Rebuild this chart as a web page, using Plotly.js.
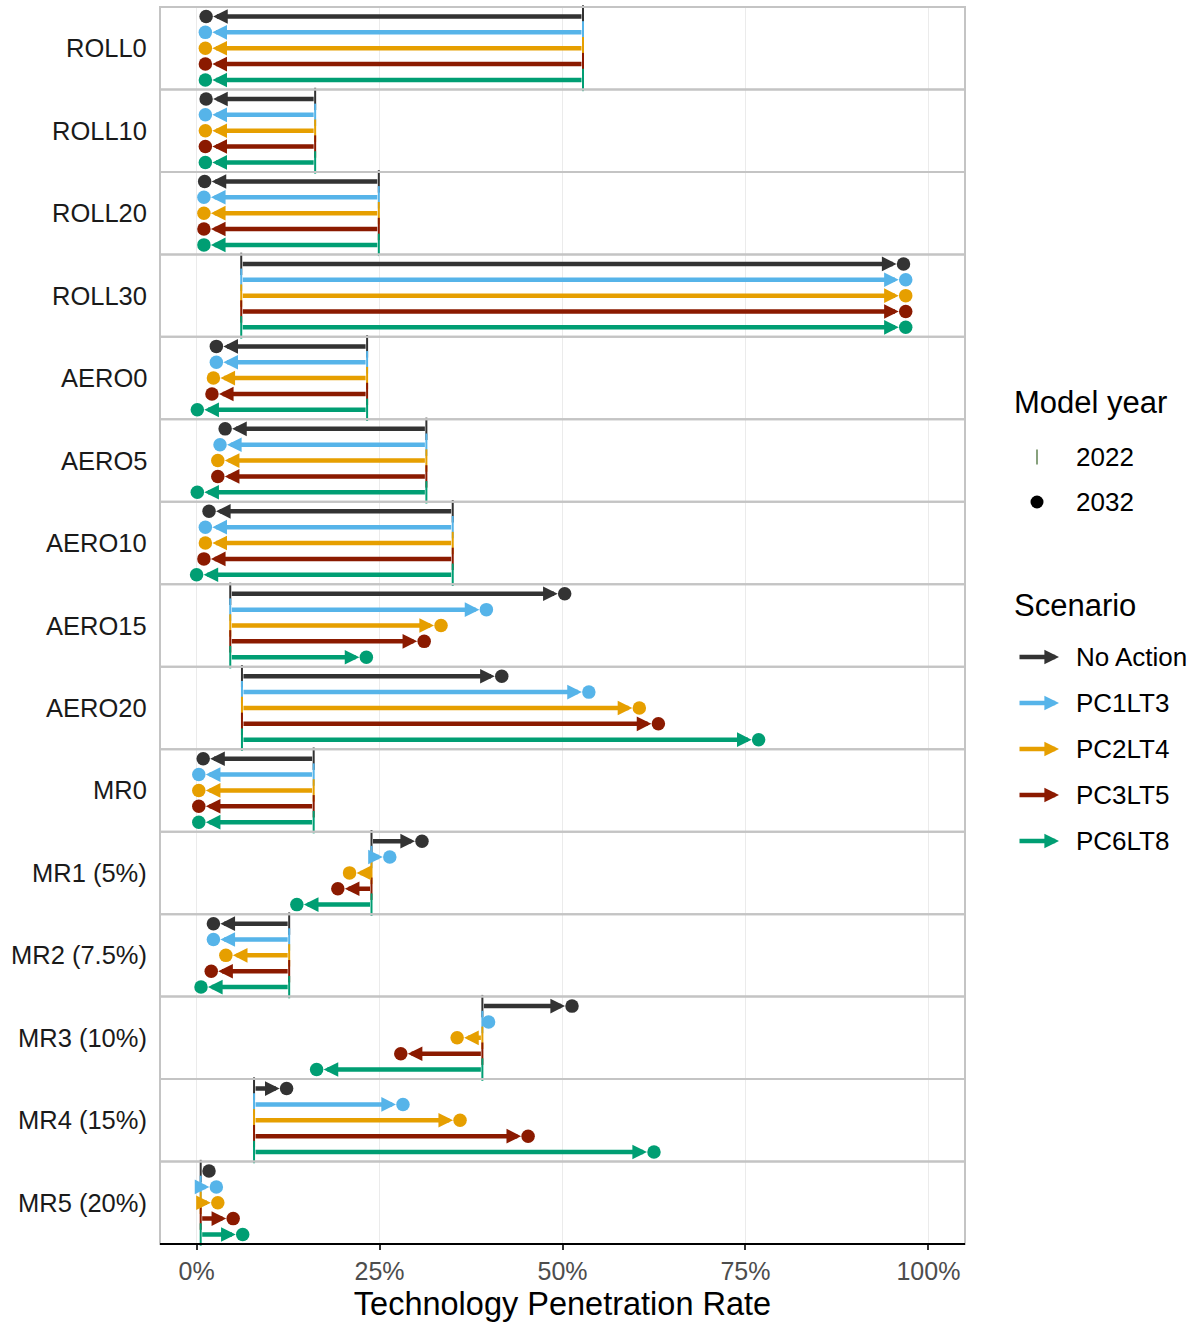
<!DOCTYPE html>
<html>
<head>
<meta charset="utf-8">
<script src="https://cdn.plot.ly/plotly-3.0.1.min.js"></script>
<style>html,body{margin:0;padding:0;background:#fff;}#chart{width:1195px;height:1322px;}</style>
</head>
<body>
<div id="chart"></div>
<script>
// ---------------- data ----------------
const facets = ["ROLL0","ROLL10","ROLL20","ROLL30","AERO0","AERO5","AERO10","AERO15","AERO20","MR0","MR1 (5%)","MR2 (7.5%)","MR3 (10%)","MR4 (15%)","MR5 (20%)"];
const scenarios = ["No Action","PC1LT3","PC2LT4","PC3LT5","PC6LT8"];
const scenarioColors = ["#333333","#56B4E9","#E69F00","#8B1A00","#009E73"];
const modelYears = ["2022","2032"];

// 2022 penetration rate (same for every scenario within a technology)
const rate2022 = [0.528,0.162,0.249,0.061,0.233,0.314,0.350,0.046,0.062,0.160,0.239,0.1265,0.3905,0.0785,0.0056];

// 2032 penetration rate by scenario
const noAction2032 = [0.013,0.013,0.011,0.966,0.027,0.039,0.017,0.503,0.417,0.009,0.308,0.023,0.513,0.123,0.017];
const pc1lt3_2032  = [0.012,0.012,0.010,0.969,0.027,0.032,0.012,0.396,0.536,0.003,0.264,0.023,0.399,0.282,0.027];
const pc2lt4_2032  = [0.012,0.012,0.010,0.969,0.023,0.029,0.012,0.334,0.605,0.003,0.209,0.040,0.356,0.360,0.029];
const pc3lt5_2032  = [0.012,0.012,0.010,0.969,0.021,0.029,0.010,0.311,0.631,0.003,0.193,0.020,0.279,0.453,0.050];
const pc6lt8_2032  = [0.012,0.012,0.010,0.969,0.001,0.001,0.000,0.232,0.768,0.003,0.137,0.006,0.164,0.625,0.063];

const xTickVals = [0,0.25,0.5,0.75,1];
const xTickText = ["0%","25%","50%","75%","100%"];
// ---------------------------------------

const rate2032 = [noAction2032,pc1lt3_2032,pc2lt4_2032,pc3lt5_2032,pc6lt8_2032];
const FONT = "Liberation Sans, Arial, sans-serif";
const W = 1195, H = 1322;
const M = {l:160, r:230, t:7, b:78};
const PW = W - M.l - M.r, PH = H - M.t - M.b;
const px2paperX = px => (px - M.l) / PW;
const px2paperY = py => (H - M.b - py) / PH;

const ARROW = {head: 2, size: 0.65, width: 4.5};

const n = facets.length;
const traces = [];
const annotations = [];
const shapes = [];
const layout = {
  width: W, height: H,
  margin: M,
  paper_bgcolor: "#ffffff",
  plot_bgcolor: "#ffffff",
  showlegend: false,
  font: {family: FONT, color: "#1A1A1A"},
  xaxis: {
    range: [-0.05, 1.05],
    tickvals: xTickVals, ticktext: xTickText,
    ticks: "outside", ticklen: 5, tickwidth: 2, tickcolor: "#333333",
    tickfont: {size: 25, color: "#4D4D4D", family: FONT},
    showgrid: true, gridcolor: "#EBEBEB", gridwidth: 1,
    zeroline: false, showline: false,
    anchor: "y" + n,
    title: {text: "Technology Penetration Rate", font: {size: 32.5, color: "#000000", family: FONT}, standoff: 8},
    fixedrange: true
  }
};

const scenIdx = scenarios.map((s, j) => j);

for (let i = 0; i < n; i++) {
  const yName = "y" + (i === 0 ? "" : (i + 1));
  const yKey = "yaxis" + (i === 0 ? "" : (i + 1));
  const top = 1 - i / n, bot = 1 - (i + 1) / n;
  layout[yKey] = {
    domain: [bot, top],
    range: [scenarios.length - 0.4, -0.6],
    showticklabels: false, showgrid: false, zeroline: false, ticks: "",
    anchor: "x", fixedrange: true
  };
  // 2022 start tick
  traces.push({
    type: "scatter", mode: "markers", xaxis: "x", yaxis: yName,
    x: scenarios.map(() => rate2022[i]), y: scenIdx,
    marker: {symbol: "line-ns", size: 16, color: scenarioColors, line: {width: 2, color: scenarioColors}},
    hoverinfo: "skip", showlegend: false, cliponaxis: false
  });
  // 2032 end dot
  traces.push({
    type: "scatter", mode: "markers", xaxis: "x", yaxis: yName,
    x: scenarios.map((s, j) => rate2032[j][i]), y: scenIdx,
    marker: {symbol: "circle", size: 13.5, color: scenarioColors, line: {width: 0}},
    hoverinfo: "skip", showlegend: false, cliponaxis: false
  });
  // arrows 2022 -> 2032
  scenarios.forEach((s, j) => {
    annotations.push({
      xref: "x", yref: yName, axref: "x", ayref: yName,
      x: rate2032[j][i], y: j, ax: rate2022[i], ay: j,
      text: "", showarrow: true, arrowhead: ARROW.head, arrowsize: ARROW.size, arrowwidth: ARROW.width,
      arrowcolor: scenarioColors[j], standoff: 7, startstandoff: 0,
      font: {size: 1}
    });
  });
  // facet label
  annotations.push({
    xref: "paper", yref: yName + " domain", x: px2paperX(149), y: 0.5,
    xanchor: "right", yanchor: "middle", showarrow: false,
    text: facets[i], font: {size: 25.5, color: "#1A1A1A", family: FONT}
  });
  // panel border
  shapes.push({
    type: "rect", xref: "paper", yref: yName + " domain",
    x0: 0, x1: 1, y0: 0, y1: 1,
    line: {color: "#C4C4C4", width: 2}, fillcolor: "rgba(0,0,0,0)", layer: "above"
  });
}
// bottom axis line
shapes.push({
  type: "line", xref: "paper", yref: "y" + n + " domain",
  x0: 0, x1: 1, y0: 0, y1: 0,
  line: {color: "#000000", width: 2}, layer: "above"
});

// ---------- manual legends ----------
const legX = px2paperX(1012), keyX = px2paperX(1037), labX = px2paperX(1074);
annotations.push({xref:"paper", yref:"paper", x: legX, y: px2paperY(403), xanchor:"left", yanchor:"middle",
  showarrow:false, text:"Model year", font:{size:31, color:"#000000", family:FONT}});
const yearY = [457, 502];
modelYears.forEach((yr, k) => {
  annotations.push({xref:"paper", yref:"paper", x: labX, y: px2paperY(yearY[k]), xanchor:"left", yanchor:"middle",
    showarrow:false, text: yr, font:{size:26, color:"#000000", family:FONT}});
});
shapes.push({type:"line", xref:"paper", yref:"paper", xsizemode:"pixel", ysizemode:"pixel",
  xanchor: keyX, yanchor: px2paperY(yearY[0]), x0:0, x1:0, y0:-7.5, y1:7.5,
  line:{color:"#557A46", width:1.4}});
shapes.push({type:"circle", xref:"paper", yref:"paper", xsizemode:"pixel", ysizemode:"pixel",
  xanchor: keyX, yanchor: px2paperY(yearY[1]), x0:-6.5, x1:6.5, y0:-6.5, y1:6.5,
  fillcolor:"#000000", line:{color:"#000000", width:0}});

annotations.push({xref:"paper", yref:"paper", x: legX, y: px2paperY(605), xanchor:"left", yanchor:"middle",
  showarrow:false, text:"Scenario", font:{size:31, color:"#000000", family:FONT}});
scenarios.forEach((s, j) => {
  const yy = px2paperY(657 + j * 46);
  annotations.push({xref:"paper", yref:"paper", x: px2paperX(1059), y: yy,
    ax: -41, ay: 0, text:"", showarrow:true, arrowhead:ARROW.head, arrowsize:ARROW.size, arrowwidth:ARROW.width,
    arrowcolor: scenarioColors[j], standoff:0, font:{size:1}});
  annotations.push({xref:"paper", yref:"paper", x: labX, y: yy, xanchor:"left", yanchor:"middle",
    showarrow:false, text: s, font:{size:26, color:"#000000", family:FONT}});
});

layout.annotations = annotations;
layout.shapes = shapes;

Plotly.newPlot("chart", traces, layout, {displayModeBar:false, staticPlot:true});
</script>
</body>
</html>
